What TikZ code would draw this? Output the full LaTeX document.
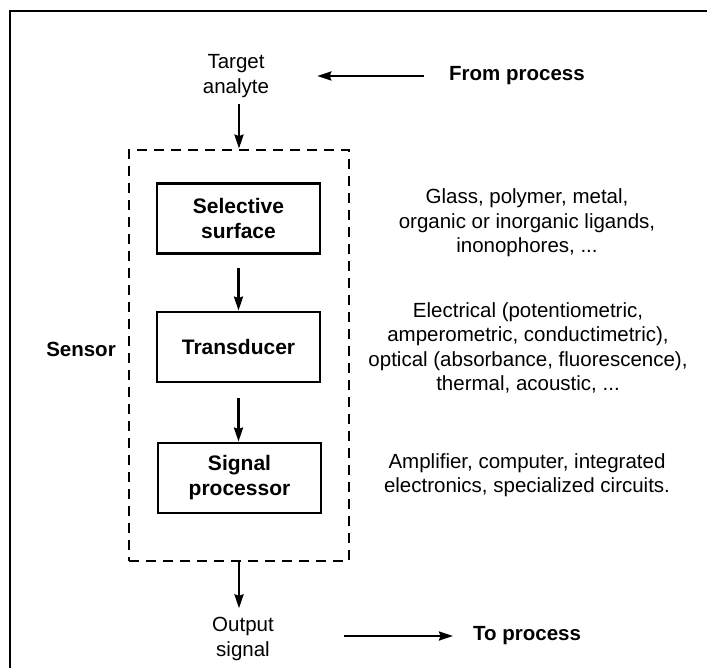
\documentclass[tikz,border=0pt]{standalone}
\usepackage{fontspec}
\setmainfont{Liberation Sans}
\usetikzlibrary{arrows.meta}

\tikzset{
  stage/.style={draw, line width=2.8pt, minimum width=163pt, minimum height=70pt,
    inner sep=0pt, align=center, font=\bfseries\fontsize{21}{25}\selectfont},
  sensorframe/.style={draw, line width=2.8pt, dash pattern=on 10pt off 7pt,
    minimum width=220pt, minimum height=411pt, inner sep=0pt},
  plain/.style={inner sep=0pt, align=center, font=\fontsize{20.5}{24.3}\selectfont},
  heading/.style={inner sep=0pt, align=center, font=\bfseries\fontsize{20.5}{24.3}\selectfont},
  flow/.style={line width=2.4pt, -{Stealth[length=14pt,width=9pt,inset=1.5pt]}},
}

\begin{document}
\begin{tikzpicture}[x=1pt, y=-1pt]
  \useasboundingbox (0,0) rectangle (707,668);
  % page border
  \draw[line width=2.8pt] (10,668) -- (10,11) -- (707,11);

  % sensor enclosure and its three stages
  \node[sensorframe] (sensor) at (239,355.5) {};
  \node[stage] (surface) at (238.5,218.5) {Selective\\surface};
  \node[stage] (transducer) at (238.5,347) {Transducer};
  \node[stage] (processor) at (239.5,478) {Signal\\processor};
  \node[heading] (sensorlabel) at (81,349) {Sensor};

  % input and output
  \node[plain] (analyte) at (236,76) {Target\\analyte};
  \node[heading, anchor=west] (fromproc) at (449,76) {From process};
  \node[plain] (output) at (243,639) {Output\\signal};
  \node[heading, anchor=west] (toproc) at (473,636) {To process};

  % descriptions of each stage
  \node[plain] (surfacenote) at (527,223) {Glass, polymer, metal,\\organic or inorganic ligands,\\inonophores, ...};
  \node[plain] (transnote) at (528,348) {Electrical (potentiometric,\\amperometric, conductimetric),\\optical (absorbance, fluorescence),\\thermal, acoustic, ...};
  \node[plain] (procnote) at (527,475) {Amplifier, computer, integrated\\electronics, specialized circuits.};

  % connectors
  \draw[flow, shorten <=25pt, shorten >=48pt] (fromproc.west) -- (fromproc.west -| analyte.east);
  \draw[flow, shorten <=6pt] (analyte.south -| sensor.north) -- (sensor.north);
  \draw[flow, shorten <=13pt] (surface.south) -- (transducer.north);
  \draw[flow, shorten <=15pt] (transducer.south) -- (processor.north -| transducer.south);
  \draw[flow, shorten >=9pt] (sensor.south) -- (sensor.south |- output.north);
  \draw[flow, shorten <=70pt, shorten >=20pt] (output.east |- toproc.west) -- (toproc.west);
\end{tikzpicture}
\end{document}
